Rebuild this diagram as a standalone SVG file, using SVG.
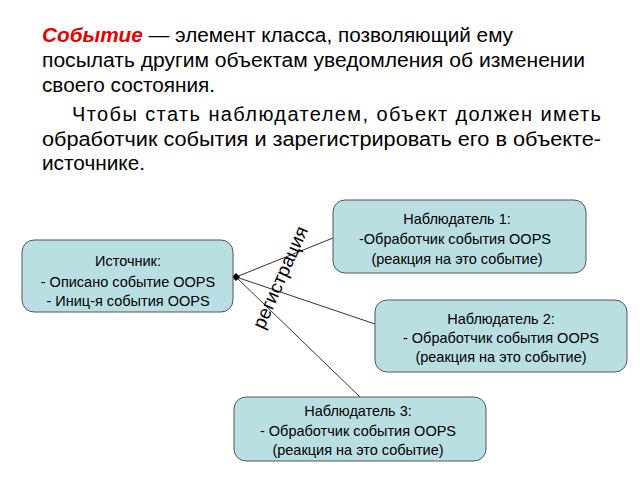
<svg xmlns="http://www.w3.org/2000/svg" width="640" height="480" viewBox="0 0 640 480">
<style>
text{font-family:"Liberation Sans",Arial,sans-serif;fill:#000}
.p{font-size:20px}
.b{font-size:14.5px;text-anchor:middle}
.box{fill:#b9dfe3;stroke:#555;stroke-width:1}
.c{stroke:#333;stroke-width:1;fill:none}
</style>
<rect width="640" height="480" fill="#fff"/>
<text class="p" x="42" y="42" textLength="471" lengthAdjust="spacingAndGlyphs"><tspan fill="#e00000" font-weight="bold" font-style="italic">Событие</tspan> — элемент класса, позволяющий ему</text>
<text class="p" x="42" y="67" textLength="543" lengthAdjust="spacingAndGlyphs">посылать другим объектам уведомления об изменении</text>
<text class="p" x="42" y="92" textLength="173" lengthAdjust="spacingAndGlyphs">своего состояния.</text>
<text class="p" x="72" y="121" textLength="529" lengthAdjust="spacing">Чтобы стать наблюдателем, объект должен иметь</text>
<text class="p" x="42" y="146" textLength="559" lengthAdjust="spacingAndGlyphs">обработчик события и зарегистрировать его в объекте-</text>
<text class="p" x="42" y="170" textLength="103" lengthAdjust="spacingAndGlyphs">источнике.</text>
<g id="connectors">
<line class="c" x1="236" y1="277" x2="333" y2="238"/>
<line class="c" x1="236" y1="277" x2="375" y2="324"/>
<line class="c" x1="236" y1="277" x2="360" y2="397"/>
<path d="M232,277 L236,273 L240,277 L236,281Z" fill="#000"/>
<text x="0" y="0" font-size="19" text-anchor="middle" transform="translate(286,280) rotate(-66)">регистрация</text>
</g>
<g id="source">
<rect class="box" x="22" y="240" width="211" height="72" rx="12"/>
<text class="b" x="128" y="266">Источник:</text>
<text class="b" x="128" y="287">- Описано событие OOPS</text>
<text class="b" x="128" y="306">- Иниц-я события OOPS</text>
</g>
<g id="obs1">
<rect class="box" x="333" y="200" width="253" height="73" rx="12"/>
<text class="b" x="457" y="224">Наблюдатель 1:</text>
<text class="b" x="455" y="244">-Обработчик события OOPS</text>
<text class="b" x="457" y="264">(реакция на это событие)</text>
</g>
<g id="obs2">
<rect class="box" x="375" y="300" width="252" height="72" rx="12"/>
<text class="b" x="501" y="324">Наблюдатель 2:</text>
<text class="b" x="501" y="343">- Обработчик события OOPS</text>
<text class="b" x="501" y="362">(реакция на это событие)</text>
</g>
<g id="obs3">
<rect class="box" x="234" y="397" width="252" height="64" rx="12"/>
<text class="b" x="358" y="416">Наблюдатель 3:</text>
<text class="b" x="358" y="436">- Обработчик события OOPS</text>
<text class="b" x="358" y="455">(реакция на это событие)</text>
</g>
</svg>
